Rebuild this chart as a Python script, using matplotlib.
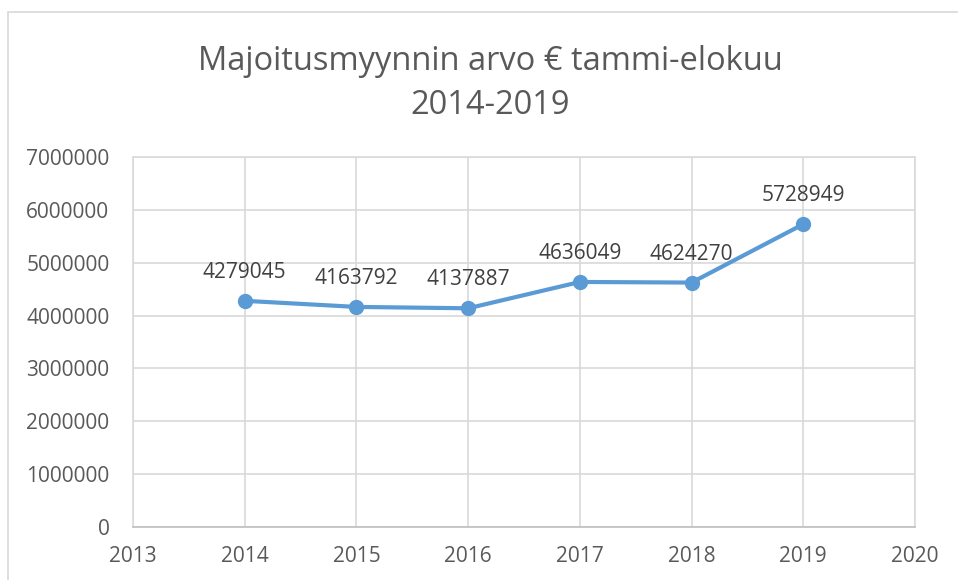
import matplotlib.pyplot as plt
from matplotlib.patches import Rectangle

# Data
years = [2014, 2015, 2016, 2017, 2018, 2019]
values = [4279045, 4163792, 4137887, 4636049, 4624270, 5728949]
x_ticks = [2013, 2014, 2015, 2016, 2017, 2018, 2019, 2020]
y_ticks = [0, 1000000, 2000000, 3000000, 4000000, 5000000, 6000000, 7000000]

plt.rcParams['font.family'] = ['Open Sans', 'DejaVu Sans']
text_color = '#595959'
grid_color = '#d9d9d9'

fig = plt.figure(figsize=(9.58, 5.8), dpi=100)

# chart border (cropped on right/bottom)
fig.patches.append(Rectangle((8 / 958, -0.1), 1.2, 1 - 12 / 580 + 0.1,
                             transform=fig.transFigure, fill=False,
                             edgecolor=grid_color, linewidth=1.2))

ax = fig.add_axes([133 / 958, 1 - 527 / 580, (915 - 133) / 958, (527 - 157) / 580])
ax.plot(years, values, color='#5b9bd5', linewidth=3, marker='o',
        markersize=10, zorder=3)
for x, y in zip(years, values):
    ax.annotate(str(y), (x, y), xytext=(0, 13), textcoords='offset points',
                ha='center', va='bottom', fontsize=15, color='#404040')

ax.set_xlim(2013, 2020)
ax.set_ylim(0, 7000000)
ax.set_xticks(x_ticks)
ax.set_yticks(y_ticks)
ax.set_xticklabels([str(t) for t in x_ticks])
ax.set_yticklabels([str(t) for t in y_ticks])
ax.grid(True, color=grid_color, linewidth=1.2)
ax.set_axisbelow(True)
for side in ax.spines:
    ax.spines[side].set_color(grid_color)
    ax.spines[side].set_linewidth(1.2)
ax.spines['bottom'].set_color('#bfbfbf')
ax.tick_params(length=0, labelsize=15, colors=text_color)
ax.tick_params(axis='x', pad=14)
ax.tick_params(axis='y', pad=17)

fig.text(490 / 958, 1 - 62 / 580, 'Majoitusmyynnin arvo € tammi-elokuu',
         ha='center', va='center', fontsize=23.5, color=text_color)
fig.text(490 / 958, 1 - 106 / 580, '2014-2019',
         ha='center', va='center', fontsize=23.5, color=text_color)

fig.savefig('out.png', dpi=100)
